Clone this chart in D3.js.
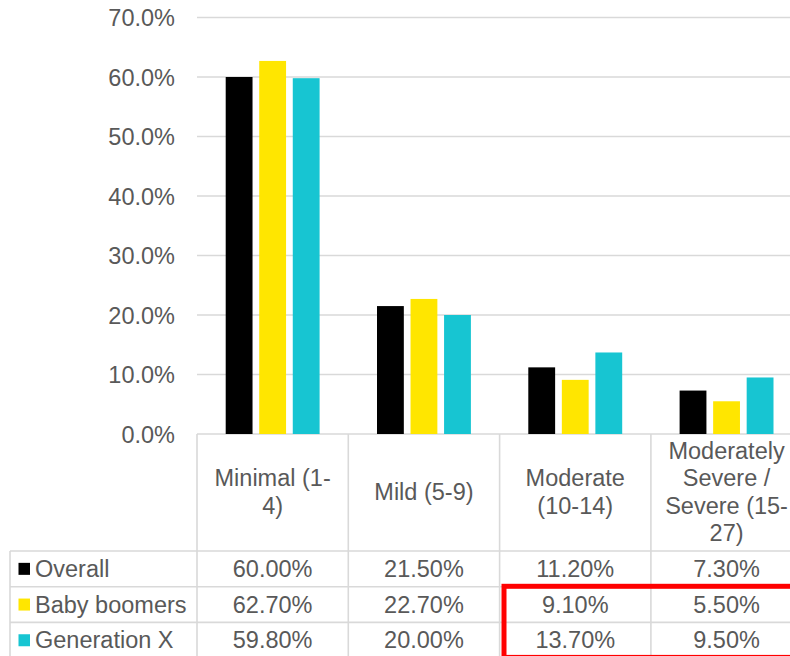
<!DOCTYPE html>
<html>
<head>
<meta charset="utf-8">
<script src="https://cdn.jsdelivr.net/npm/d3@7"></script>
<style>
  html, body { margin: 0; padding: 0; background: #ffffff; }
  svg { display: block; }
  text { font-family: "Liberation Sans", Arial, sans-serif; fill: #595959; }
</style>
</head>
<body>
<svg id="chart" width="790" height="656"></svg>
<script>
// Depression severity groups (PHQ score bands), one column each
const categories = ["Minimal (1-4)", "Mild (5-9)", "Moderate (10-14)", "Moderately Severe / Severe (15-27)"];
const categoryLines = [
  ["Minimal (1-", "4)"],
  ["Mild (5-9)"],
  ["Moderate", "(10-14)"],
  ["Moderately", "Severe /", "Severe (15-", "27)"]
];
const seriesNames = ["Overall", "Baby boomers", "Generation X"];
const overall     = [0.600, 0.215, 0.112, 0.073];
const babyBoomers = [0.627, 0.227, 0.091, 0.055];
const generationX = [0.598, 0.200, 0.137, 0.095];
const seriesColors = ["#000000", "#FFE600", "#17C5D2"];
const yTicks = [0, 0.1, 0.2, 0.3, 0.4, 0.5, 0.6, 0.7];

const seriesValues = [overall, babyBoomers, generationX];

const svg = d3.select("#chart");
const fontSize = 23.5;
const gridColor = "#d9d9d9";

// Scales
const plotLeft = 197, bandWidth = 151.3;
const x = d3.scaleBand()
  .domain(categories)
  .range([plotLeft, plotLeft + bandWidth * categories.length])
  .paddingInner(0).paddingOuter(0);

const xInner = d3.scaleBand()
  .domain(seriesNames)
  .range([28.7, bandWidth - 28.7])
  .paddingInner(0.2).paddingOuter(0);

const y = d3.scaleLinear().domain([0, 0.7]).range([434, 17.5]);

// Gridlines (0% line doubles as the top edge of the data table)
svg.append("g")
  .selectAll("line")
  .data(yTicks)
  .join("line")
  .attr("x1", plotLeft)
  .attr("x2", x.range()[1])
  .attr("y1", d => y(d))
  .attr("y2", d => y(d))
  .attr("stroke", gridColor)
  .attr("stroke-width", 1.6);

// Y axis labels
const fmtAxis = d3.format(".1%");
svg.append("g")
  .selectAll("text")
  .data(yTicks)
  .join("text")
  .attr("x", 175)
  .attr("y", d => y(d) + 8.6)
  .attr("text-anchor", "end")
  .style("font-size", fontSize + "px")
  .text(d => fmtAxis(d));

// Bars
const groups = svg.append("g")
  .selectAll("g")
  .data(categories)
  .join("g")
  .attr("transform", d => `translate(${x(d)},0)`);

groups.selectAll("rect")
  .data((c, ci) => seriesNames.map((s, si) => ({ s, si, v: seriesValues[si][ci] })))
  .join("rect")
  .attr("x", d => xInner(d.s))
  .attr("width", xInner.bandwidth())
  .attr("y", d => y(d.v))
  .attr("height", d => y(0) - y(d.v))
  .attr("fill", d => seriesColors[d.si]);

// Data table
const headerTop = 434, headerBottom = 551, rowH = 35.7;
const tableLeft = 10, tableRight = x.range()[1];
const rowTops = seriesNames.map((s, i) => headerBottom + i * rowH);
const tableBottom = headerBottom + seriesNames.length * rowH;

const table = svg.append("g");

// Horizontal row lines
table.selectAll("line.h")
  .data(rowTops.concat([tableBottom]))
  .join("line")
  .attr("class", "h")
  .attr("x1", tableLeft).attr("x2", tableRight)
  .attr("y1", d => d).attr("y2", d => d)
  .attr("stroke", gridColor).attr("stroke-width", 1.6);

// Vertical column lines
const colEdges = categories.map(c => x(c)).concat([x.range()[1]]);
table.selectAll("line.v")
  .data(colEdges)
  .join("line")
  .attr("class", "v")
  .attr("x1", d => d).attr("x2", d => d)
  .attr("y1", headerTop).attr("y2", tableBottom)
  .attr("stroke", gridColor).attr("stroke-width", 1.6);

table.append("line")
  .attr("x1", tableLeft).attr("x2", tableLeft)
  .attr("y1", headerBottom).attr("y2", tableBottom)
  .attr("stroke", gridColor).attr("stroke-width", 1.6);

// Category headers
const lineGap = 27.3, headerBase = 500;
categories.forEach((c, ci) => {
  const lines = categoryLines[ci];
  const t = table.append("text")
    .attr("text-anchor", "middle")
    .style("font-size", fontSize + "px");
  lines.forEach((ln, li) => {
    t.append("tspan")
      .attr("x", x(c) + x.bandwidth() / 2)
      .attr("y", headerBase + (li - (lines.length - 1) / 2) * lineGap)
      .text(ln);
  });
});

// Legend keys and series names
seriesNames.forEach((s, si) => {
  const cy = rowTops[si] + rowH / 2;
  table.append("rect")
    .attr("x", 18.5).attr("y", cy - 6)
    .attr("width", 11.5).attr("height", 12)
    .attr("fill", seriesColors[si]);
  table.append("text")
    .attr("x", 35)
    .attr("y", cy + 8)
    .style("font-size", fontSize + "px")
    .text(s);
});

// Cell values
const fmtCell = d3.format(".2%");
seriesNames.forEach((s, si) => {
  table.selectAll(null)
    .data(categories)
    .join("text")
    .attr("x", c => x(c) + x.bandwidth() / 2)
    .attr("y", rowTops[si] + rowH / 2 + 8)
    .attr("text-anchor", "middle")
    .style("font-size", fontSize + "px")
    .text((c, ci) => fmtCell(seriesValues[si][ci]));
});

// Highlight around the generational figures for the two most severe groups
const hlX = x(categories[2]) + 4.4;
const hlY = rowTops[1] - 0.4;
svg.append("rect")
  .attr("x", hlX)
  .attr("y", hlY)
  .attr("width", x.range()[1] - hlX + 10)
  .attr("height", tableBottom - hlY - 0.7)
  .attr("fill", "none")
  .attr("stroke", "#FF0000")
  .attr("stroke-width", 5);
</script>
</body>
</html>
